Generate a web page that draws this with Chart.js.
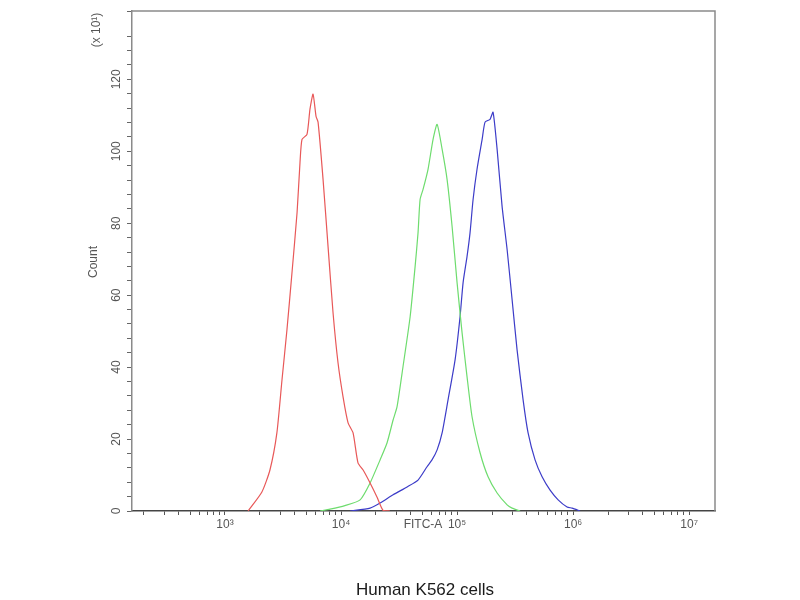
<!DOCTYPE html>
<html>
<head>
<meta charset="utf-8">
<script src="https://cdn.jsdelivr.net/npm/chart.js@4/dist/chart.umd.min.js"></script>
<style>
  html, body { margin: 0; padding: 0; background: #fff; }
  #wrap { width: 800px; height: 600px; }
</style>
</head>
<body>
<div id="wrap"><canvas id="chart" width="800" height="600"></canvas></div>
<script>
// FITC-A intensity / count (x10^1)
const redX = [1580, 2080, 2440, 2800, 3100, 3420, 3780, 4180, 4430, 4610, 5090, 5400, 5740, 6090, 6340, 7000, 7730, 8530, 9420, 10400, 11500, 12700, 14000, 15500, 17800, 20400, 23000, 26400];
const redY = [0, 5.3, 11.4, 21.7, 36.5, 50.4, 66.3, 83.0, 96.9, 103.3, 104.7, 111.7, 115.9, 109.7, 108.1, 92.2, 73.5, 55.2, 41.2, 31.8, 24.5, 21.7, 13.4, 11.4, 7.8, 3.9, 0.2, 0];

const greenX = [6590, 8040, 10800, 14600, 17800, 21700, 24900, 28100, 30400, 34200, 39400, 43500, 46100, 48000, 50900, 56200, 62100, 67300, 74300, 82000, 90600, 100000, 110400, 121900, 134600, 157800, 185000, 221300, 269900, 297900, 349300];
const greenY = [0, 0.5, 1.5, 3.1, 7.8, 14.2, 18.9, 25.3, 29.0, 40.1, 54.0, 68.0, 77.4, 86.6, 89.4, 95.0, 103.3, 107.5, 100.6, 92.2, 79.1, 63.5, 49.6, 37.3, 26.2, 16.2, 9.5, 5.0, 1.7, 0.8, 0];

const blueX = [11960, 17800, 21700, 28100, 37100, 46100, 55100, 60800, 67300, 74300, 83600, 96200, 106100, 112700, 121900, 129400, 137400, 148600, 164400, 174200, 192400, 204200, 221300, 244300, 269900, 297900, 328900, 370700, 409300, 469900, 540300, 633400, 743000, 887200, 979500, 1148000];
const blueY = [0, 0.8, 2.2, 4.5, 6.7, 8.6, 12.3, 14.2, 17.0, 21.7, 30.9, 42.1, 54.0, 63.5, 70.8, 77.4, 86.6, 95.0, 103.3, 108.1, 108.9, 110.9, 100.6, 84.7, 72.7, 58.8, 44.8, 30.9, 21.7, 14.2, 9.5, 5.8, 3.1, 1.1, 0.8, 0];

const yTickLabels = [0, 20, 40, 60, 80, 100, 120];
const xDecades = [3, 4, 5, 6, 7];
const supers = { 3: '\u00b3', 4: '\u2074', 5: '\u2075', 6: '\u2076', 7: '\u2077' };

function toPoints(xs, ys) {
    return xs.map((x, i) => ({ x: x, y: ys[i] }));
}

const tickFont = '12px "Liberation Sans", Arial, sans-serif';

const extras = {
    id: 'extras',
    afterDraw(chart) {
        const ctx = chart.ctx;
        const a = chart.chartArea;
        const ys = chart.scales.y;
        ctx.save();
        // top and right frame
        ctx.strokeStyle = '#8a8a8a';
        ctx.lineWidth = 1.5;
        ctx.beginPath();
        ctx.moveTo(a.left, a.top);
        ctx.lineTo(a.right, a.top);
        ctx.lineTo(a.right, a.bottom);
        ctx.stroke();

        // rotated y tick labels
        ctx.fillStyle = '#555';
        ctx.font = tickFont;
        ctx.textAlign = 'center';
        ctx.textBaseline = 'middle';
        yTickLabels.forEach(v => {
            const py = ys.getPixelForValue(v);
            ctx.save();
            ctx.translate(a.left - 15, py);
            ctx.rotate(-Math.PI / 2);
            ctx.fillText(String(v), 0, 0);
            ctx.restore();
        });

        // y axis title and multiplier
        ctx.save();
        ctx.translate(a.left - 38, 262);
        ctx.rotate(-Math.PI / 2);
        ctx.fillText('Count', 0, 0);
        ctx.restore();
        ctx.save();
        ctx.translate(a.left - 35, 30);
        ctx.rotate(-Math.PI / 2);
        ctx.fillText('(x 10\u00b9)', 0, 0);
        ctx.restore();

        // x axis title on tick row
        ctx.fillText('FITC-A', 423, a.bottom + 14);

        // caption
        ctx.fillStyle = '#1a1a1a';
        ctx.font = '17px "Liberation Sans", Arial, sans-serif';
        ctx.fillText('Human K562 cells', 425, 590);
        ctx.restore();
    }
};

let chart = new Chart(
    document.getElementById('chart'),
    {
        type: 'line',
        data: {
            datasets: [
                {
                    label: 'Isotype',
                    data: toPoints(redX, redY),
                    borderColor: 'rgb(232, 88, 88)',
                    borderWidth: 1.2,
                    pointRadius: 0,
                    tension: 0.2
                },
                {
                    label: 'Control',
                    data: toPoints(greenX, greenY),
                    borderColor: 'rgb(110, 220, 110)',
                    borderWidth: 1.2,
                    pointRadius: 0,
                    tension: 0.2
                },
                {
                    label: 'Antibody',
                    data: toPoints(blueX, blueY),
                    borderColor: 'rgb(60, 60, 200)',
                    borderWidth: 1.2,
                    pointRadius: 0,
                    tension: 0.2
                }
            ]
        },
        options: {
            responsive: false,
            animation: false,
            maintainAspectRatio: false,
            devicePixelRatio: 1,
            layout: {
                padding: { left: 0, right: 85, top: 11, bottom: 59 }
            },
            plugins: {
                legend: { display: false },
                tooltip: { enabled: false }
            },
            scales: {
                x: {
                    type: 'logarithmic',
                    min: 158,
                    max: 16700000,
                    afterBuildTicks: scale => {
                        const t = [];
                        for (let e = 2; e <= 7; e++) {
                            for (let m = 1; m <= 9; m++) {
                                const v = m * Math.pow(10, e);
                                if (v >= scale.min && v <= scale.max) t.push({ value: v });
                            }
                        }
                        scale.ticks = t;
                    },
                    afterFit: scale => { scale.height = 30; },
                    ticks: {
                        autoSkip: false,
                        maxRotation: 0,
                        minRotation: 0,
                        padding: 2,
                        color: '#555',
                        font: { family: '"Liberation Sans", Arial, sans-serif', size: 12 },
                        callback: value => {
                            const e = Math.round(Math.log10(value));
                            if (Math.abs(Math.pow(10, e) - value) < 1e-6 * value && xDecades.includes(e)) {
                                return '10' + supers[e];
                            }
                            return '';
                        }
                    },
                    grid: {
                        display: true,
                        drawOnChartArea: false,
                        drawTicks: true,
                        tickLength: 4,
                        tickColor: '#555',
                        tickWidth: 1
                    },
                    border: { color: '#444', width: 1.5 }
                },
                y: {
                    type: 'linear',
                    min: 0,
                    max: 139,
                    afterFit: scale => { scale.width = 132; },
                    ticks: {
                        stepSize: 4,
                        display: false
                    },
                    grid: {
                        display: true,
                        drawOnChartArea: false,
                        drawTicks: true,
                        tickLength: 5,
                        tickColor: '#666',
                        tickWidth: 1
                    },
                    border: { color: '#8a8a8a', width: 1.5 }
                }
            }
        },
        plugins: [extras]
    }
);
</script>
</body>
</html>
